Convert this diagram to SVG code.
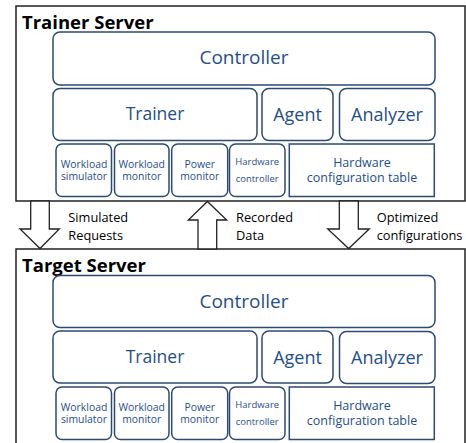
<svg xmlns="http://www.w3.org/2000/svg" width="466" height="443" viewBox="0 0 466 443">
<defs>
<style>
.srv{fill:#fff;stroke:#222;stroke-width:1.5}
.box{fill:#fff;stroke:#2b4a75;stroke-width:1.5}
.t{font-family:"Open Sans","Noto Sans",sans-serif;fill:#1f4e8c;text-anchor:middle}
.title{font-family:"Open Sans","Noto Sans",sans-serif;font-weight:bold;font-size:18.5px;fill:#000}
.lbl{font-family:"Open Sans","Noto Sans",sans-serif;font-size:12.8px;fill:#000}
.arr{fill:#fff;stroke:#222;stroke-width:1.3}
</style>
</defs>
<g id="server">
<rect class="srv" x="16" y="6" width="449" height="195"/>
<text class="title" x="22" y="28.5">Trainer Server</text>
<g id="controller"><rect class="box" x="53" y="32" width="382" height="53" rx="7"/><text class="t" x="244" y="64" font-size="19">Controller</text></g>
<g id="trainer"><rect class="box" x="53" y="88.5" width="204" height="52" rx="7"/><text class="t" x="155" y="120" font-size="17.5">Trainer</text></g>
<g id="agent"><rect class="box" x="262" y="88.5" width="71" height="52" rx="7"/><text class="t" x="297.5" y="121" font-size="18">Agent</text></g>
<g id="analyzer"><rect class="box" x="339.5" y="88.5" width="95.5" height="52" rx="7"/><text class="t" x="387" y="121" font-size="18">Analyzer</text></g>
<g id="wsim"><rect class="box" x="56" y="144" width="55.5" height="52.5" rx="6"/><text class="t" x="84" y="167.5" font-size="10.4">Workload</text><text class="t" x="84" y="180" font-size="10.4">simulator</text></g>
<g id="wmon"><rect class="box" x="114.5" y="144" width="54.5" height="52.5" rx="6"/><text class="t" x="141.7" y="167.5" font-size="10.4">Workload</text><text class="t" x="141.7" y="180" font-size="10.4">monitor</text></g>
<g id="pmon"><rect class="box" x="171.7" y="144" width="56" height="52.5" rx="6"/><text class="t" x="199.7" y="167.5" font-size="10.4">Power</text><text class="t" x="199.7" y="180" font-size="10.4">monitor</text></g>
<g id="hwctl"><rect class="box" x="229.5" y="144" width="55.5" height="52.5" rx="6"/><text class="t" x="257.2" y="165" font-size="9.5">Hardware</text><text class="t" x="257.2" y="182.3" font-size="9.5">controller</text></g>
<g id="hwtab"><rect class="box" x="289.3" y="144" width="145" height="52.5"/><text class="t" x="362" y="166.7" font-size="12.5">Hardware</text><text class="t" x="362" y="182.3" font-size="12.5">configuration table</text></g>
</g>
<g id="target" transform="translate(0,243)">
<rect class="srv" x="16" y="6" width="449" height="200"/>
<text class="title" x="22" y="29">Target Server</text>
<g id="controller2"><rect class="box" x="53" y="32.5" width="382" height="52" rx="7"/><text class="t" x="244" y="64.5" font-size="19">Controller</text></g>
<g id="trainer2"><rect class="box" x="53" y="88" width="204" height="52" rx="7"/><text class="t" x="155" y="120" font-size="17.5">Trainer</text></g>
<g id="agent2"><rect class="box" x="262" y="88" width="71" height="52" rx="7"/><text class="t" x="297.5" y="121" font-size="18">Agent</text></g>
<g id="analyzer2"><rect class="box" x="339.5" y="88.5" width="95.5" height="52" rx="7"/><text class="t" x="387" y="121" font-size="18">Analyzer</text></g>
<g id="wsim2"><rect class="box" x="56" y="144" width="55.5" height="52.5" rx="6"/><text class="t" x="84" y="167.5" font-size="10.4">Workload</text><text class="t" x="84" y="180" font-size="10.4">simulator</text></g>
<g id="wmon2"><rect class="box" x="114.5" y="144" width="54.5" height="52.5" rx="6"/><text class="t" x="141.7" y="167.5" font-size="10.4">Workload</text><text class="t" x="141.7" y="180" font-size="10.4">monitor</text></g>
<g id="pmon2"><rect class="box" x="171.7" y="144" width="56" height="52.5" rx="6"/><text class="t" x="199.7" y="167.5" font-size="10.4">Power</text><text class="t" x="199.7" y="180" font-size="10.4">monitor</text></g>
<g id="hwctl2"><rect class="box" x="229.5" y="144" width="55.5" height="52.5" rx="6"/><text class="t" x="257.2" y="165" font-size="9.5">Hardware</text><text class="t" x="257.2" y="182.3" font-size="9.5">controller</text></g>
<g id="hwtab2"><rect class="box" x="289.3" y="144" width="145" height="52.5"/><text class="t" x="362" y="166.7" font-size="12.5">Hardware</text><text class="t" x="362" y="182.3" font-size="12.5">configuration table</text></g>
</g>
<g id="connectors">
<polygon class="arr" points="30.7,201 49.3,201 49.3,229 59.3,229 40,248.5 20,229 30.7,229"/>
<polygon class="arr" points="198,249 216.7,249 216.7,220 226.7,220 207.4,201.5 188.3,220 198,220"/>
<polygon class="arr" points="339.3,201 358.3,201 358.3,229 369.3,229 348.7,248.5 327.7,229 339.3,229"/>
<text class="lbl" x="68.3" y="222">Simulated</text>
<text class="lbl" x="68.3" y="240">Requests</text>
<text class="lbl" x="236" y="222">Recorded</text>
<text class="lbl" x="236" y="240">Data</text>
<text class="lbl" x="376.7" y="222">Optimized</text>
<text class="lbl" x="376.7" y="240">configurations</text>
</g>
</svg>
